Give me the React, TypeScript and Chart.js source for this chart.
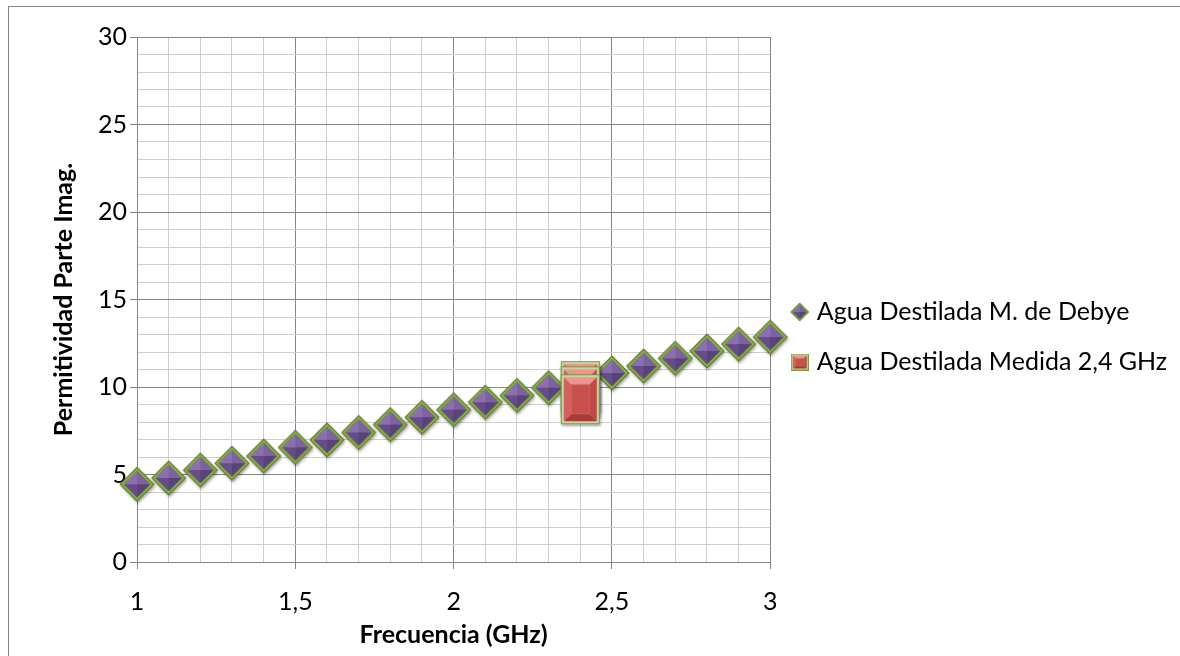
import React, { useEffect, useRef } from 'react';
import { Chart, registerables } from 'chart.js';

Chart.register(...registerables);

// ---- data ----
const frequencies = [1.0, 1.1, 1.2, 1.3, 1.4, 1.5, 1.6, 1.7, 1.8, 1.9, 2.0, 2.1, 2.2, 2.3, 2.4, 2.5, 2.6, 2.7, 2.8, 2.9, 3.0];
const debyeValues = [4.44, 4.8, 5.25, 5.64, 6.06, 6.55, 6.98, 7.4, 7.85, 8.27, 8.7, 9.13, 9.52, 9.96, 10.38, 10.8, 11.2, 11.64, 12.06, 12.45, 12.85];
const measuredFrequencies = [2.4, 2.4, 2.4];
const measuredValues = [10.05, 9.75, 9.3];
const seriesNames = ['Agua Destilada M. de Debye', 'Agua Destilada Medida 2,4 GHz'];
const xTitle = 'Frecuencia (GHz)';
const yTitle = 'Permitividad Parte Imag.';

const FONT = 'Lato';
const FS = 25;

function makeDiamond(size: number, shadow: boolean): HTMLCanvasElement {
  const pad = shadow ? 3 : 0;
  const c = document.createElement('canvas');
  c.width = size + pad * 2;
  c.height = size + pad * 2;
  const g = c.getContext('2d')!;
  const cx = c.width / 2;
  const cy = c.height / 2;
  const r = size / 2 - 0.5;
  const diamond = (rr: number) => {
    g.beginPath();
    g.moveTo(cx, cy - rr);
    g.lineTo(cx + rr, cy);
    g.lineTo(cx, cy + rr);
    g.lineTo(cx - rr, cy);
    g.closePath();
  };
  if (shadow) {
    g.save();
    g.shadowColor = 'rgba(0,0,0,0.35)';
    g.shadowBlur = 3;
    g.shadowOffsetX = 1;
    g.shadowOffsetY = 2;
    diamond(r);
    g.fillStyle = '#5f7a2c';
    g.fill();
    g.restore();
  }
  diamond(r);
  g.fillStyle = '#5f7a2c';
  g.fill();
  const edge = shadow ? 4.5 : 2.6;
  diamond(r - (shadow ? 1.4 : 0.9));
  g.fillStyle = '#8fb04c';
  g.fill();
  const ri = r - edge;
  diamond(ri + 0.8);
  g.fillStyle = '#6a8a32';
  g.fill();
  const faces: [number, number, number, number, string][] = [
    [cx - ri, cy, cx, cy - ri, '#8b70af'],
    [cx, cy - ri, cx + ri, cy, '#7d62a1'],
    [cx + ri, cy, cx, cy + ri, '#59437a'],
    [cx, cy + ri, cx - ri, cy, '#654e88'],
  ];
  for (const [x1, y1, x2, y2, col] of faces) {
    g.beginPath();
    g.moveTo(cx, cy);
    g.lineTo(x1, y1);
    g.lineTo(x2, y2);
    g.closePath();
    g.fillStyle = col;
    g.fill();
  }
  return c;
}

function makeRedBox(w: number, h: number, shadow: boolean): HTMLCanvasElement {
  const pad = shadow ? 3 : 0;
  const c = document.createElement('canvas');
  c.width = w + pad * 2;
  c.height = h + pad * 2;
  const g = c.getContext('2d')!;
  const x0 = pad;
  const y0 = pad;
  if (shadow) {
    g.save();
    g.shadowColor = 'rgba(0,0,0,0.35)';
    g.shadowBlur = 3;
    g.shadowOffsetX = 1;
    g.shadowOffsetY = 2;
    g.fillStyle = '#7f9a45';
    g.fillRect(x0, y0, w, h);
    g.restore();
  }
  g.fillStyle = '#7f9a45';
  g.fillRect(x0, y0, w, h);
  const e = Math.max(1, Math.round(w * 0.06));
  g.fillStyle = '#c3d69b';
  g.fillRect(x0 + 1, y0 + 1, w - 2, h - 2);
  const ix = x0 + e + 1;
  const iy = y0 + e + 1;
  const iw = w - 2 * e - 2;
  const ih = h - 2 * e - 2;
  const bev = Math.min(iw, ih) * 0.22;
  const face = (pts: number[], col: string) => {
    g.beginPath();
    g.moveTo(pts[0], pts[1]);
    for (let i = 2; i < pts.length; i += 2) g.lineTo(pts[i], pts[i + 1]);
    g.closePath();
    g.fillStyle = col;
    g.fill();
  };
  face([ix, iy, ix + iw, iy, ix + iw - bev, iy + bev, ix + bev, iy + bev], '#ee9490');
  face([ix + iw, iy, ix + iw, iy + ih, ix + iw - bev, iy + ih - bev, ix + iw - bev, iy + bev], '#c04a47');
  face([ix, iy + ih, ix + iw, iy + ih, ix + iw - bev, iy + ih - bev, ix + bev, iy + ih - bev], '#a83a37');
  face([ix, iy, ix, iy + ih, ix + bev, iy + ih - bev, ix + bev, iy + bev], '#d2605c');
  g.fillStyle = '#c94f4b';
  g.fillRect(ix + bev, iy + bev, iw - 2 * bev, ih - 2 * bev);
  return c;
}

const isMajorX = (v: number) => Math.abs(v * 2 - Math.round(v * 2)) < 1e-6;
const isMajorY = (v: number) => Math.abs(v / 5 - Math.round(v / 5)) < 1e-6;
const fmt = (v: number) => String(Math.round(v * 10) / 10).replace('.', ',');

const MAJOR = '#868686';
const MINOR = '#cfcfcf';

// Let the right-hand legend use all the room up to the canvas edge.
const widenLegend = {
  id: 'widenLegend',
  afterLayout(chart: any) {
    const l = chart.legend;
    if (l) {
      l.right = chart.width;
      l.width = l.right - l.left;
    }
  },
};

export default function App() {
  const ref = useRef<HTMLCanvasElement>(null);
  useEffect(() => {
    if (!ref.current) return;
    const diamond = makeDiamond(36, true);
    const redBox = makeRedBox(39, 50, true);
    const legendDiamond = makeDiamond(20, false);
    const legendBox = makeRedBox(18, 17, false);
    const chart = new Chart(ref.current, {
      type: 'scatter',
      plugins: [widenLegend],
      data: {
        datasets: [
          {
            label: seriesNames[0],
            data: frequencies.map((f, i) => ({ x: f, y: debyeValues[i] })),
            pointStyle: diamond as any,
            pointRadius: 18,
            showLine: false,
            clip: false,
            order: 1,
          },
          {
            label: seriesNames[1],
            data: measuredFrequencies.map((f, i) => ({ x: f, y: measuredValues[i] })),
            pointStyle: redBox as any,
            pointRadius: 20,
            showLine: false,
            clip: false,
            order: 0,
          },
        ],
      },
      options: {
        animation: false,
        responsive: false,
        maintainAspectRatio: false,
        layout: { padding: { left: 36, top: 37, right: 165, bottom: 4 } },
        plugins: {
          tooltip: { enabled: false },
          legend: {
            position: 'right',
            fullSize: false,
            align: 'center',
            title: { display: true, text: ' ', font: { size: 20 }, padding: { top: 0, bottom: 51 } },
            labels: {
              usePointStyle: true,
              boxWidth: 9,
              padding: 25,
              color: '#000',
              font: { size: FS, family: FONT },
              generateLabels: (ch: any) => {
                const items = Chart.defaults.plugins.legend.labels.generateLabels(ch);
                items.sort((a: any, b: any) => a.datasetIndex - b.datasetIndex);
                items.forEach((it: any) => {
                  it.pointStyle = it.datasetIndex === 0 ? legendDiamond : legendBox;
                  it.fontColor = '#000';
                });
                return items;
              },
            },
          },
        },
        scales: {
          x: {
            type: 'linear',
            min: 1,
            max: 3,
            border: { color: MAJOR },
            grid: {
              color: (c: any) => (isMajorX(c.tick.value) ? MAJOR : MINOR),
              tickColor: (c: any) => (isMajorX(c.tick.value) ? MAJOR : 'rgba(0,0,0,0)'),
              tickLength: 7,
            },
            ticks: {
              stepSize: 0.1,
              autoSkip: false,
              maxRotation: 0,
              padding: 18,
              color: '#000',
              font: { size: FS, family: FONT },
              callback: (v: any) => (isMajorX(Number(v)) ? fmt(Number(v)) : ''),
            },
            title: {
              display: true,
              text: xTitle,
              color: '#000',
              font: { size: FS, family: FONT, weight: 'bold' },
              padding: { top: -15, bottom: 2 },
            },
          },
          y: {
            type: 'linear',
            min: 0,
            max: 30,
            border: { color: MAJOR },
            grid: {
              color: (c: any) => (isMajorY(c.tick.value) ? MAJOR : MINOR),
              tickColor: (c: any) => (isMajorY(c.tick.value) ? MAJOR : 'rgba(0,0,0,0)'),
              tickLength: 7,
            },
            ticks: {
              stepSize: 1,
              autoSkip: false,
              padding: 3,
              color: '#000',
              font: { size: FS, family: FONT },
              callback: (v: any) => (isMajorY(Number(v)) ? fmt(Number(v)) : ''),
            },
            title: {
              display: true,
              text: yTitle,
              color: '#000',
              font: { size: FS, family: FONT, weight: 'bold' },
              padding: { top: 13, bottom: 16 },
            },
          },
        },
      },
    } as any);
    return () => chart.destroy();
  }, []);

  return (
    <div style={{ position: 'fixed', left: 0, top: 0, width: 1180, height: 656, overflow: 'hidden', background: '#fff' }}>
      <div
        style={{
          position: 'absolute',
          left: 8,
          top: 6,
          width: 1300,
          height: 800,
          borderLeft: '1px solid #868686',
          borderTop: '1px solid #868686',
        }}
      />
      <canvas ref={ref} width={1180} height={656} style={{ position: 'absolute', left: 0, top: 0 }} />
    </div>
  );
}
